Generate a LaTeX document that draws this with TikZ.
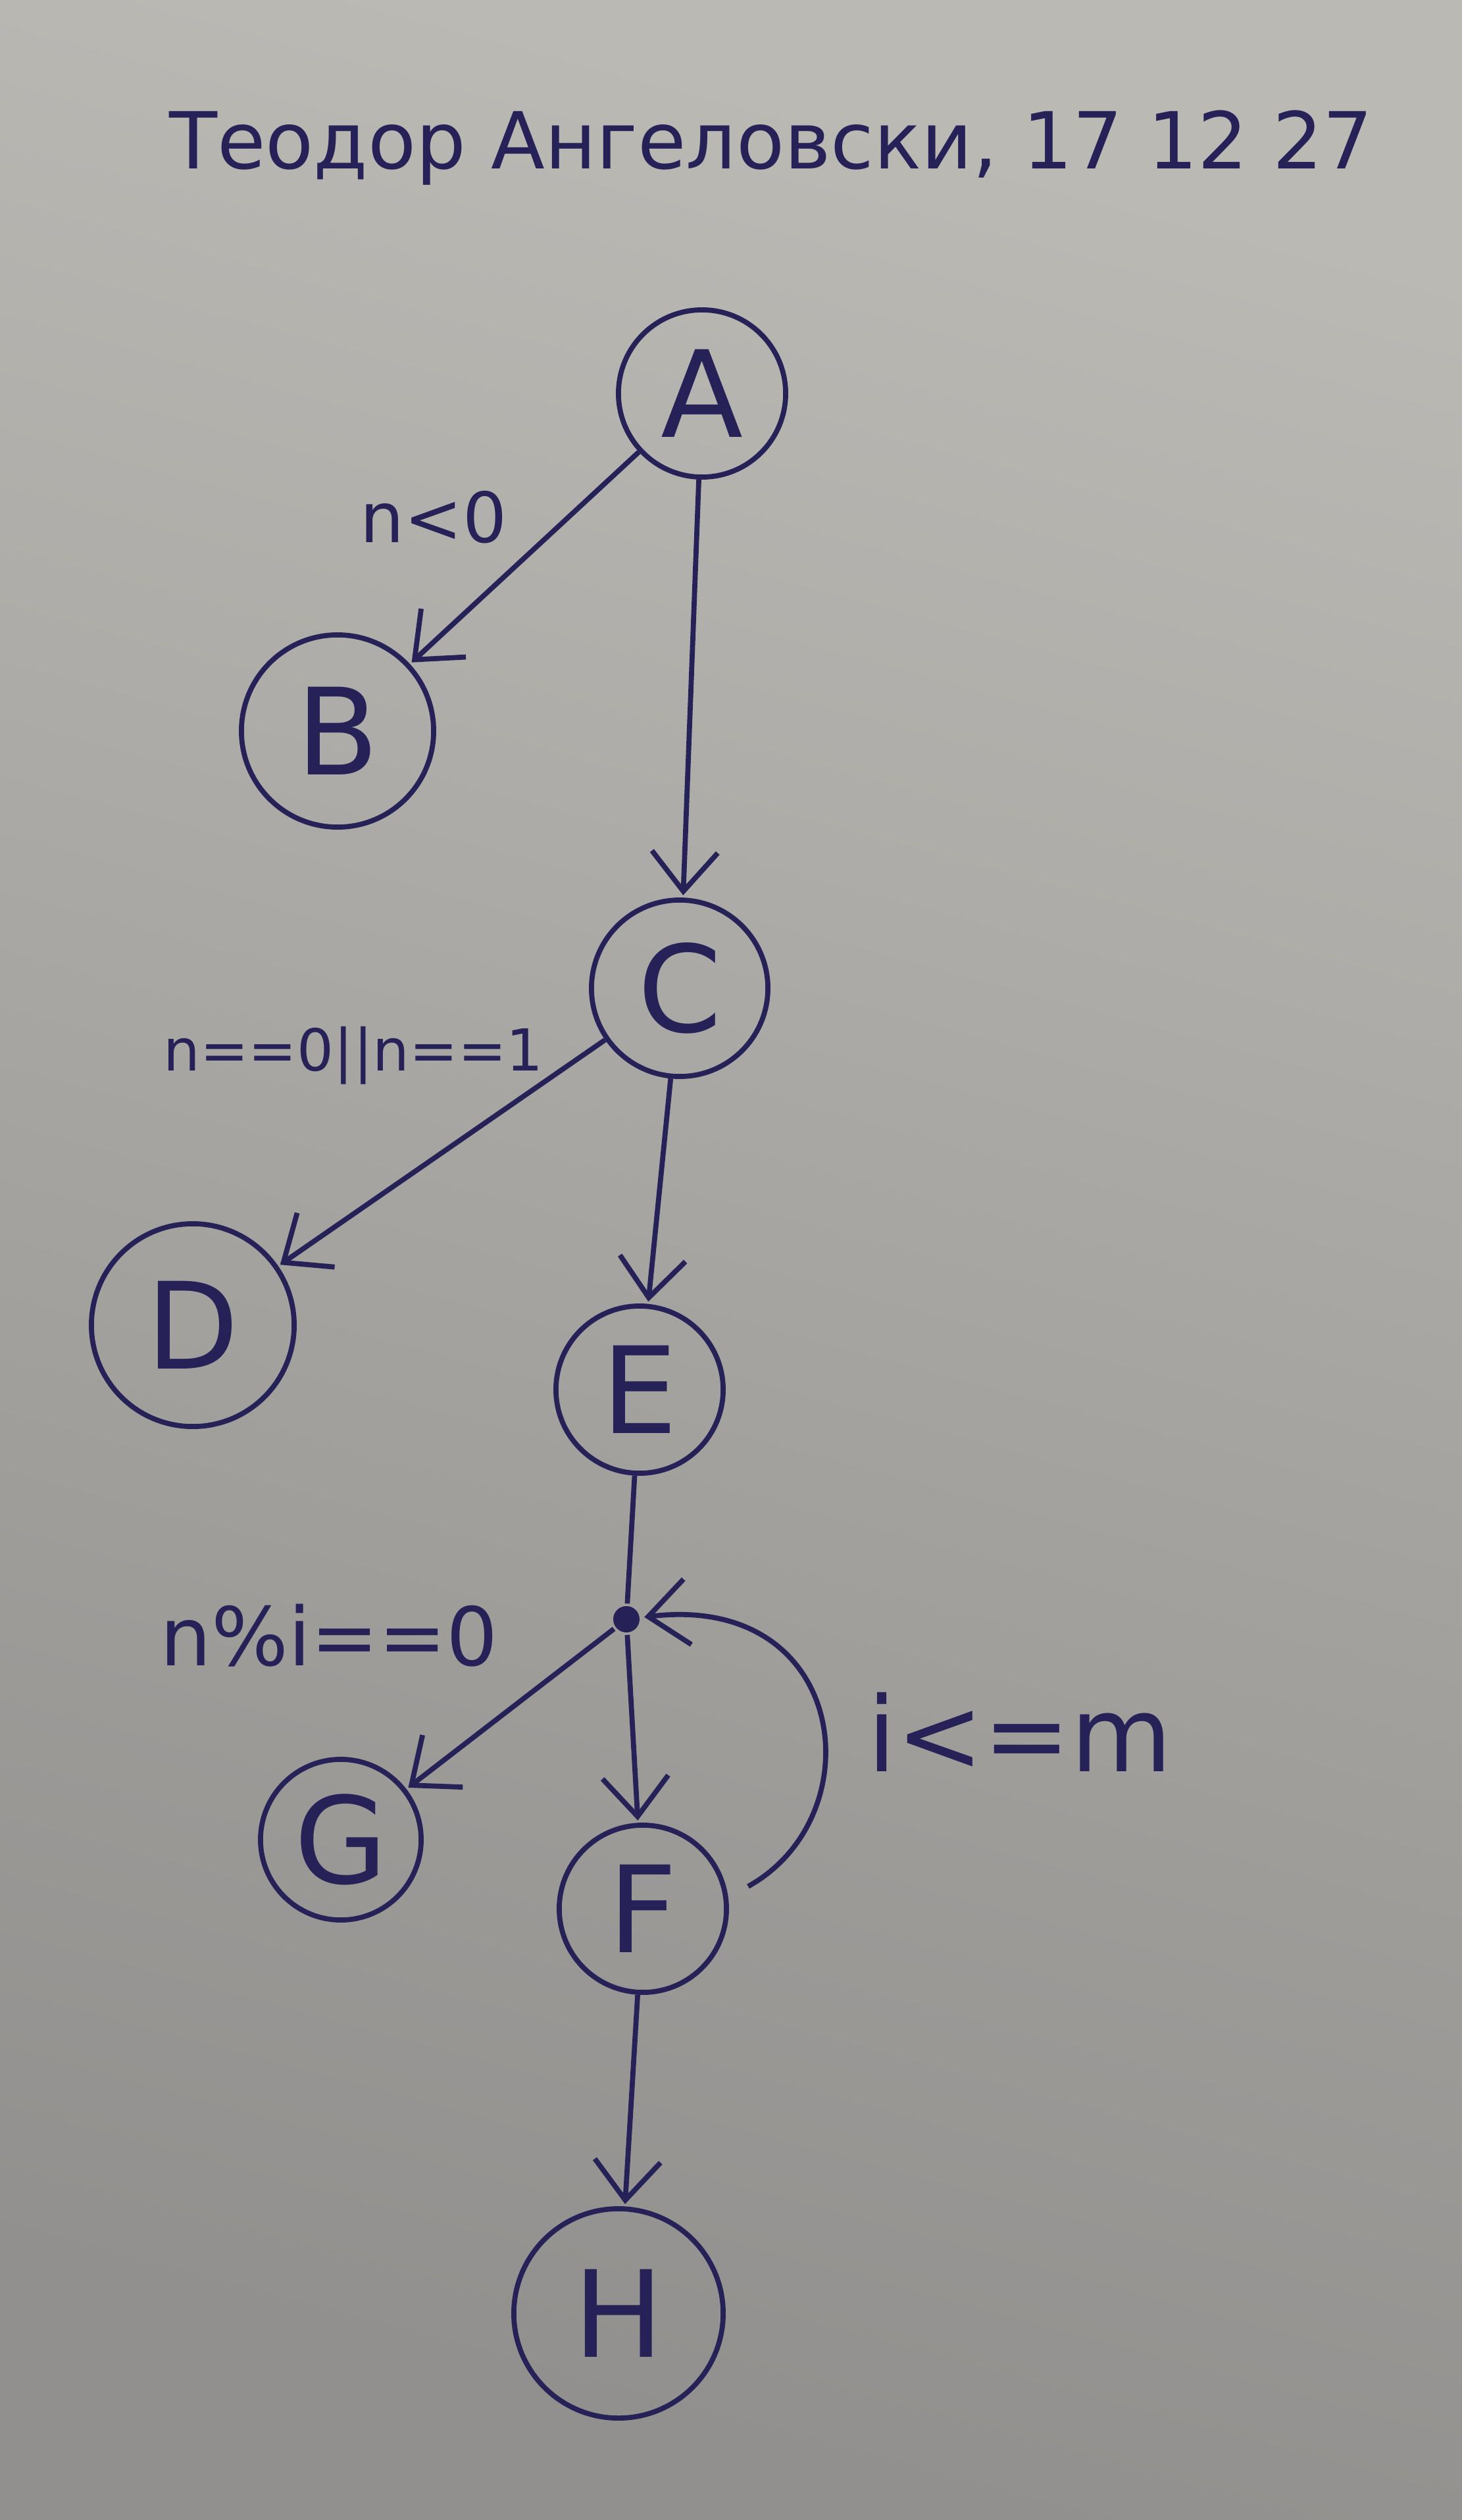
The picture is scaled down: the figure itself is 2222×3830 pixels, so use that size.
\documentclass[tikz,border=0pt]{standalone}
\usepackage{fontspec}
\setmainfont{DejaVu Sans}
\usepackage{tikz}
\usetikzlibrary{arrows.meta}
\definecolor{pen}{RGB}{38,34,88}
\definecolor{paper}{RGB}{146,144,142}
\definecolor{papertop}{RGB}{186,185,180}

\begin{document}
\begin{tikzpicture}[x=0.01cm,y=-0.01cm,line width=2.2pt,
  state node/.style={circle,draw=pen,text=pen,inner sep=0pt,minimum size=2.54cm,font=\fontsize{52}{60}\selectfont},
  cond node/.style={text=pen,inner sep=0pt},
  junction node/.style={circle,fill=pen,inner sep=0pt,minimum size=0.4cm},
  trans/.style={draw=pen,->,>={Straight Barb[length=6mm,width=10mm]},shorten >=1pt}]

  \shade[top color=papertop,bottom color=paper,shading angle=-15] (0,0) rectangle (2222,3830);
  \useasboundingbox (0,0) rectangle (2222,3830);

  \node[cond node,font=\fontsize{34}{40}\selectfont] (title) at (1172,225) {Теодор Ангеловски, 17 12 27};

  \node[state node]                      (A) at (1067,598)  {A};
  \node[state node,minimum size=2.92cm]  (B) at (513,1111)  {B};
  \node[state node,minimum size=2.68cm]  (C) at (1033,1502) {C};
  \node[state node,minimum size=3.08cm]  (D) at (293,2014)  {D};
  \node[state node]                      (E) at (972,2112)  {E};
  \node[junction node]                   (J) at (952,2461)  {};
  \node[state node,minimum size=2.44cm]  (G) at (518,2796)  {G};
  \node[state node]                      (F) at (977,2901)  {F};
  \node[state node,minimum size=3.18cm]  (H) at (940,3516)  {H};
  \coordinate (loopstart) at (1137,2867);

  \node[cond node,font=\fontsize{30}{36}\selectfont] (c1) at (659,786)   {n<0};
  \node[cond node,font=\fontsize{25}{30}\selectfont] (c2) at (537,1604)  {n==0||n==1};
  \node[cond node,font=\fontsize{35}{42}\selectfont] (c3) at (500,2486)  {n\%i==0};
  \node[cond node,font=\fontsize{45}{54}\selectfont] (c4) at (1550,2632) {i<=m};

  \path[trans]
    (A) edge (B)
        edge (C)
    (C) edge (D)
        edge (E)
    (J) edge (G)
        edge (F)
    (F) edge (H);
  \draw[pen] (E) -- (J);
  \draw[trans] (loopstart) .. controls (1330,2760) and (1290,2420) .. (J);
\end{tikzpicture}
\end{document}
